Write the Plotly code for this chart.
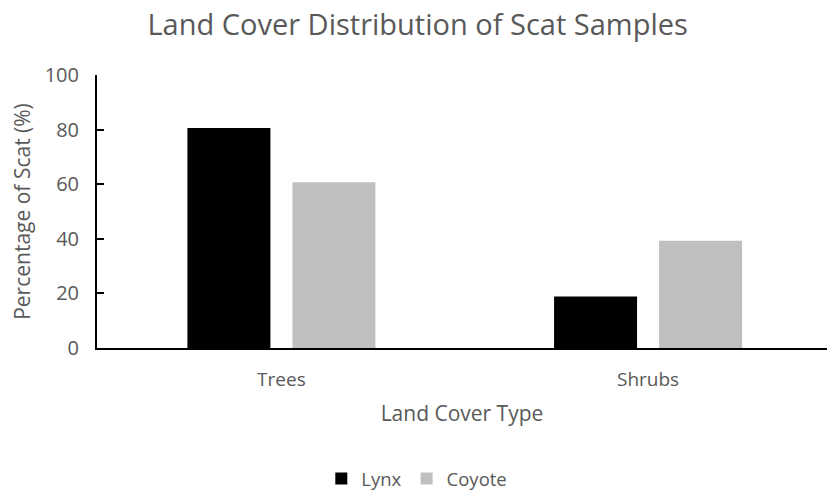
import plotly.graph_objects as go

# Land cover categories and share of scat samples (%) per species
land_cover = ["Trees", "Shrubs"]
lynx_pct = [80.6, 18.9]
coyote_pct = [60.7, 39.3]
y_ticks = [0, 20, 40, 60, 80, 100]

FONT = "Open Sans"
GREY_TEXT = "#595959"

fig = go.Figure()
fig.add_trace(go.Bar(name="Lynx", x=land_cover, y=lynx_pct,
                     marker=dict(color="#000000", line=dict(width=0))))
fig.add_trace(go.Bar(name="Coyote", x=land_cover, y=coyote_pct,
                     marker=dict(color="#bfbfbf", line=dict(width=0))))

fig.update_layout(
    width=827, height=491,
    margin=dict(l=97, r=0, t=75, b=143),
    paper_bgcolor="white", plot_bgcolor="white",
    barmode="group", bargap=0.427, bargroupgap=0.21,
    font=dict(family=FONT, color=GREY_TEXT, size=19),
    title=dict(text="Land Cover Distribution of Scat Samples",
               font=dict(family=FONT, size=29, color=GREY_TEXT),
               xref="container", x=0.505, xanchor="center",
               yref="container", y=1 - 25 / 491, yanchor="middle"),
    legend=dict(orientation="h", xref="container", x=0.504, xanchor="center",
                yref="container", y=1 - 479 / 491, yanchor="middle",
                font=dict(family=FONT, size=18.5, color=GREY_TEXT),
                itemwidth=30, traceorder="normal"),
    showlegend=True,
)

fig.update_xaxes(
    range=[-0.503, 1.488],
    showline=True, linecolor="#000000", linewidth=2,
    showgrid=False, zeroline=False,
    ticks="", ticklabelstandoff=13,
    tickfont=dict(family=FONT, size=19, color=GREY_TEXT),
    title=dict(text="Land Cover Type", standoff=16,
               font=dict(family=FONT, size=21, color=GREY_TEXT)),
    automargin=False,
)

fig.update_yaxes(
    range=[0, 100], tickvals=y_ticks,
    showline=True, linecolor="#000000", linewidth=2,
    showgrid=False, zeroline=False,
    ticks="inside", ticklen=7, tickwidth=2, tickcolor="#000000",
    tickfont=dict(family=FONT, size=20, color=GREY_TEXT),
    ticklabelstandoff=12,
    title=dict(text="Percentage of Scat (%)", standoff=8,
               font=dict(family=FONT, size=21, color=GREY_TEXT)),
    automargin=False,
)

fig.write_html("out.html")
